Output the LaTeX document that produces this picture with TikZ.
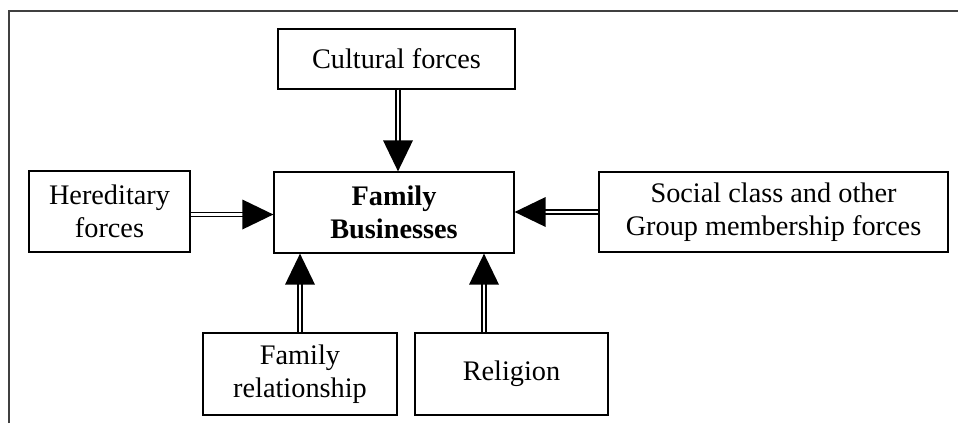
\documentclass[tikz,border=0pt]{standalone}
\usepackage{fontspec}
\setmainfont{Liberation Serif}
\usetikzlibrary{calc}
\begin{document}
\begin{tikzpicture}[x=1pt,y=-1pt,
  box/.style={draw, line width=1.3pt, align=center, inner sep=0pt,
    font=\fontsize{28.3}{33}\selectfont},
  dbl/.style={draw, line width=1.4pt, double, double distance=2.6pt},
  head/.style={fill=black}]
\useasboundingbox (0,0) rectangle (958,423);
\draw[line width=1.3pt, black!75] (9,423) -- (9,11) -- (958,11);

\node[box, minimum width=237, minimum height=60] (cult) at (396.5,59) {Cultural forces};
\node[box, minimum width=240, minimum height=81, font=\fontsize{28.3}{33}\selectfont\bfseries] (fb) at (394,212.5) {Family\\Businesses};
\node[box, minimum width=161, minimum height=81] (her) at (109.5,211.5) {Hereditary\\forces};
\node[box, minimum width=349, minimum height=80] (soc) at (773.5,212) {Social class and other\\Group membership forces};
\node[box, minimum width=194, minimum height=82] (fr) at (300,374) {Family\\relationship};
\node[box, minimum width=193, minimum height=82] (rel) at (511.5,374) {Religion};

% Cultural -> FB
\coordinate (c1) at ($(cult.south)+(1.5,0)$);
\coordinate (c2) at (c1 |- fb.north);
\draw[dbl] (c1) -- ($(c2)+(0,-30)$);
\fill[head] (c2) -- ++(-15,-31) -- ++(30,0) -- cycle;

% Hereditary -> FB
\coordinate (h1) at ($(her.east)+(0,3)$);
\coordinate (h2) at (h1 -| fb.west);
\draw[dbl] (h1) -- ($(h2)+(-30,0)$);
\fill[head] (h2) -- ++(-31,-15) -- ++(0,30) -- cycle;

% Social -> FB
\coordinate (s1) at (soc.west);
\coordinate (s2) at (s1 -| fb.east);
\draw[dbl] (s1) -- ($(s2)+(30,0)$);
\fill[head] (s2) -- ++(31,-15) -- ++(0,30) -- cycle;

% Family relationship -> FB
\coordinate (f1) at (fr.north);
\coordinate (f2) at (f1 |- fb.south);
\draw[dbl] (f1) -- ($(f2)+(0,30)$);
\fill[head] (f2) -- ++(-15,31) -- ++(30,0) -- cycle;

% Religion -> FB
\coordinate (r1) at ($(rel.north)+(-27.5,0)$);
\coordinate (r2) at (r1 |- fb.south);
\draw[dbl] (r1) -- ($(r2)+(0,30)$);
\fill[head] (r2) -- ++(-15,31) -- ++(30,0) -- cycle;
\end{tikzpicture}
\end{document}
